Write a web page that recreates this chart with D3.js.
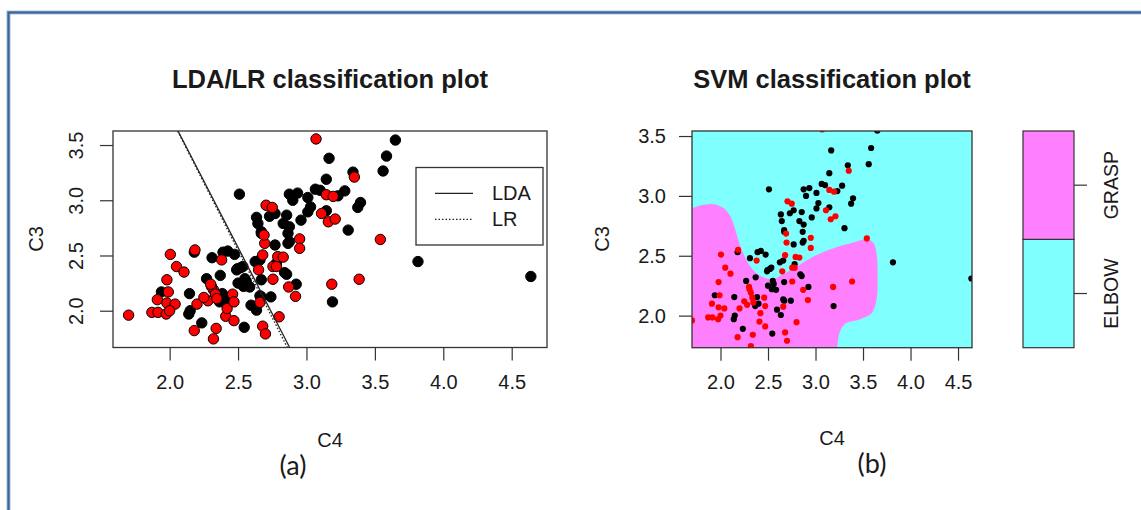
<!DOCTYPE html>
<html>
<head>
<meta charset="utf-8">
<script src="https://cdn.jsdelivr.net/npm/d3@7"></script>
<style>
  body { margin: 0; background: #fff; }
  svg text { font-family: "Liberation Sans", Arial, sans-serif; fill: #1a1a1a; }
</style>
</head>
<body>
<div id="chart"></div>
<script>
// ---- data ----
// GRASP (red) points: [C4, C3]
const graspPts = [
  [1.70,1.96],[3.07,3.555],[2.005,2.51],[2.05,2.40],[2.105,2.35],[1.98,2.28],[1.99,2.17],
  [1.91,2.10],[1.98,2.07],[2.04,2.06],[1.87,1.985],[1.915,1.985],[1.975,1.97],[2.00,2.00],
  [2.185,2.55],[2.38,2.46],[2.18,1.82],[2.32,1.745],[2.34,1.84],[2.41,1.95],[2.47,1.91],
  [2.20,2.06],[2.28,2.09],[2.32,2.19],[2.305,2.22],[2.335,2.15],[2.42,2.02],[2.46,2.15],
  [2.47,2.08],[2.68,1.86],[2.70,1.79],[2.80,1.945],[2.66,2.075],[2.65,2.37],[2.755,2.285],
  [2.87,2.215],[2.92,2.13],[2.68,2.505],[2.695,2.61],[2.755,2.40],[2.79,2.49],[2.83,2.485],
  [2.95,2.65],[2.95,2.565],[2.69,2.685],[2.705,2.955],[2.75,2.935],[3.11,2.88],[3.16,2.805],
  [3.21,2.83],[3.145,3.05],[3.195,3.035],[3.35,3.21],[3.54,2.645],[3.185,2.24],[3.385,2.285],
  [2.30,2.24],[2.345,2.11],[2.78,2.40],[2.25,2.12]
];
// ELBOW (black) points: [C4, C3]
const elbowPts = [
  [1.94,2.17],[2.145,2.155],[2.15,2.00],[2.14,1.97],[2.235,1.89],[2.18,2.53],[2.31,2.48],
  [2.39,2.53],[2.425,2.54],[2.475,2.51],[2.37,2.32],[2.27,2.29],[2.495,2.38],[2.535,2.40],
  [2.55,2.29],[2.50,2.25],[2.385,2.155],[2.40,2.10],[2.365,2.08],[2.545,1.85],[2.595,2.05],
  [2.635,2.005],[2.67,2.125],[2.74,2.125],[2.67,2.28],[2.585,2.215],[2.625,2.445],[2.84,2.345],
  [2.925,2.24],[2.67,2.715],[2.875,2.625],[2.77,2.595],[3.19,2.08],[2.51,3.055],[2.635,2.845],
  [2.645,2.79],[2.67,2.70],[2.73,2.855],[2.77,2.88],[2.83,2.79],[2.855,2.865],[2.875,2.76],
  [2.865,2.70],[2.865,2.61],[2.875,3.055],[2.90,3.00],[2.935,3.065],[2.96,2.82],[3.01,3.025],
  [3.03,2.94],[3.01,2.895],[3.065,3.10],[3.10,3.09],[3.145,3.19],[3.165,3.38],[3.23,3.04],
  [3.28,3.085],[3.34,3.255],[3.305,2.73],[3.375,2.935],[3.395,2.98],[3.56,3.265],[3.585,3.40],
  [3.65,3.545],[3.815,2.445],[4.64,2.31],[2.855,2.33],[2.78,2.43],[2.66,2.135],[2.54,2.22],
  [2.56,2.265],[2.66,2.46],[2.52,2.39],[2.49,2.37],[3.145,2.905]
];

// discriminant lines, C3 = intercept + slope * C4
const lineNames = ["LDA", "LR"];
const lineIntercepts = [8.578, 8.657];
const lineSlopes = [-2.402, -2.444];

// SVM GRASP region outline (curved part), [C4, C3]
const svmEdgeC4 = [1.70,1.825,1.93,2.035,2.105,2.157,2.21,2.314,2.419,2.542,2.664,2.804,2.978,
  3.188,3.398,3.537,3.607,3.642,3.653,3.642,3.59,3.468,3.31,3.251,3.23];
const svmEdgeC3 = [2.897,2.925,2.931,2.897,2.828,2.716,2.577,2.41,2.332,2.304,2.348,2.41,2.493,
  2.563,2.61,2.638,2.61,2.521,2.326,2.131,2.02,1.969,1.93,1.852,1.732];

const xTicks = [2.0, 2.5, 3.0, 3.5, 4.0, 4.5];
const yTicks = [2.0, 2.5, 3.0, 3.5];
const classNames = ["ELBOW", "GRASP"];
const classColors = ["#80FFFF", "#FF80FF"];

// ---- page ----
const W = 1141, H = 510;
const svg = d3.select("#chart").append("svg").attr("width", W).attr("height", H);

// blue frame
svg.append("rect").attr("x", 8.5).attr("y", 12.5).attr("width", W + 20).attr("height", H + 20)
  .attr("fill", "none").attr("stroke", "#a9bedb").attr("stroke-width", 4);
svg.append("rect").attr("x", 8.5).attr("y", 12.5).attr("width", W + 20).attr("height", H + 20)
  .attr("fill", "none").attr("stroke", "#3d6399").attr("stroke-width", 2.2);

const fmt = d3.format(".1f");

function xAxisR(g, x, y0) {
  g.attr("transform", "translate(0," + y0 + ")")
    .call(d3.axisBottom(x).tickValues(xTicks).tickFormat(fmt).tickSize(13).tickPadding(14))
    .call(a => a.select(".domain").remove())
    .call(a => a.selectAll("line").attr("stroke", "#333").attr("stroke-width", 1.2))
    .call(a => a.selectAll("text").attr("font-size", 20).attr("fill", "#1a1a1a")
      .attr("font-family", "Liberation Sans, Arial, sans-serif"));
}

/** Left plot: LDA / LR */
const xA = d3.scaleLinear().domain([1.586, 4.758]).range([113, 547]);
const yA = d3.scaleLinear().domain([1.667, 3.627]).range([347.5, 131]);

const plotA = svg.append("g");
svg.append("defs").append("clipPath").attr("id", "clipA")
  .append("rect").attr("x", 113).attr("y", 131).attr("width", 434).attr("height", 216.5);

// points
plotA.selectAll("circle.elbow").data(elbowPts).join("circle").attr("class", "elbow")
  .attr("cx", d => xA(d[0])).attr("cy", d => yA(d[1])).attr("r", 5.2)
  .attr("fill", "#000").attr("stroke", "#000").attr("stroke-width", 1);
plotA.selectAll("circle.grasp").data(graspPts).join("circle").attr("class", "grasp")
  .attr("cx", d => xA(d[0])).attr("cy", d => yA(d[1])).attr("r", 5.2)
  .attr("fill", "#FF0000").attr("stroke", "#000").attr("stroke-width", 1);

// lines
const yd = yA.domain();
plotA.append("g").attr("clip-path", "url(#clipA)")
  .selectAll("line").data(lineNames).join("line")
  .attr("x1", (d, i) => xA((yd[1] - lineIntercepts[i]) / lineSlopes[i])).attr("y1", yA(yd[1]))
  .attr("x2", (d, i) => xA((yd[0] - lineIntercepts[i]) / lineSlopes[i])).attr("y2", yA(yd[0]))
  .attr("stroke", "#222").attr("stroke-width", 1.3)
  .attr("stroke-dasharray", (d, i) => i == 0 ? null : "1.5,2");

// box
plotA.append("rect").attr("x", 113).attr("y", 131).attr("width", 434).attr("height", 216.5)
  .attr("fill", "none").attr("stroke", "#333").attr("stroke-width", 1.3);

plotA.append("g").call(g => xAxisR(g, xA, 347.5));

// y axis with rotated labels (R default)
const yAxA = plotA.append("g").attr("transform", "translate(113,0)")
  .call(d3.axisLeft(yA).tickValues(yTicks).tickFormat(fmt).tickSize(13).tickPadding(0));
yAxA.select(".domain").remove();
yAxA.selectAll("line").attr("stroke", "#333").attr("stroke-width", 1.2);
yAxA.selectAll("text").attr("font-size", 20).attr("fill", "#1a1a1a")
  .attr("font-family", "Liberation Sans, Arial, sans-serif")
  .attr("text-anchor", "middle").attr("dy", null)
  .attr("transform", "translate(-30.5,0) rotate(-90)").attr("x", 0).attr("y", 0);

// legend
const leg = plotA.append("g");
leg.append("rect").attr("x", 416).attr("y", 167.5).attr("width", 127).attr("height", 77.5)
  .attr("fill", "#fff").attr("stroke", "#333").attr("stroke-width", 1.3);
lineNames.forEach((n, i) => {
  const ly = 193.3 + i * 26;
  leg.append("line").attr("x1", 435).attr("x2", 473).attr("y1", ly).attr("y2", ly)
    .attr("stroke", "#222").attr("stroke-width", 1.3)
    .attr("stroke-dasharray", i == 0 ? null : "1.5,2");
  leg.append("text").attr("x", 492).attr("y", ly + 7).attr("font-size", 20).text(n);
});

// titles and labels
svg.append("text").attr("x", 330).attr("y", 88).attr("text-anchor", "middle")
  .attr("font-size", 25.5).attr("font-weight", "bold").attr("fill", "#000")
  .text("LDA/LR classification plot");
svg.append("text").attr("x", 330).attr("y", 447).attr("text-anchor", "middle")
  .attr("font-size", 20).text("C4");
svg.append("text").attr("transform", "translate(42.5,239) rotate(-90)")
  .attr("text-anchor", "middle").attr("font-size", 20).text("C3");
svg.append("text").attr("x", 293).attr("y", 475).attr("text-anchor", "middle")
  .attr("font-size", 27).style("font-family", "Lato, 'Open Sans', sans-serif").text("(a)");

/** Right plot: SVM */
const xB = d3.scaleLinear().domain([1.70, 4.647]).range([692, 972]);
const yB = d3.scaleLinear().domain([1.732, 3.542]).range([347.7, 131]);

svg.select("defs").append("clipPath").attr("id", "clipB")
  .append("rect").attr("x", 692).attr("y", 131).attr("width", 280).attr("height", 216.7);

const plotB = svg.append("g");
const regB = plotB.append("g").attr("clip-path", "url(#clipB)");
regB.append("rect").attr("x", 692).attr("y", 131).attr("width", 280).attr("height", 216.7)
  .attr("fill", classColors[0]);

const edge = svmEdgeC4.map((c4, i) => [xB(c4), yB(svmEdgeC3[i])]);
const edgePath = d3.line().curve(d3.curveCatmullRom.alpha(0.5))(edge);
regB.append("path")
  .attr("d", edgePath + "L" + xB(3.23) + "," + (yB(1.732) + 5) + "L" + (xB(1.70) - 5) + "," + (yB(1.732) + 5)
    + "L" + (xB(1.70) - 5) + "," + yB(2.897) + "Z")
  .attr("fill", classColors[1]);

regB.selectAll("circle.elbow").data(elbowPts).join("circle").attr("class", "elbow")
  .attr("cx", d => xB(d[0])).attr("cy", d => yB(d[1])).attr("r", 3.1).attr("fill", "#000");
regB.selectAll("circle.grasp").data(graspPts).join("circle").attr("class", "grasp")
  .attr("cx", d => xB(d[0])).attr("cy", d => yB(d[1])).attr("r", 3.1).attr("fill", "#FF0000");

plotB.append("rect").attr("x", 692).attr("y", 131).attr("width", 280).attr("height", 216.7)
  .attr("fill", "none").attr("stroke", "#333").attr("stroke-width", 1.3);

plotB.append("g").call(g => xAxisR(g, xB, 347.7));

const yAxB = plotB.append("g").attr("transform", "translate(692,0)")
  .call(d3.axisLeft(yB).tickValues(yTicks).tickFormat(fmt).tickSize(13).tickPadding(13));
yAxB.select(".domain").remove();
yAxB.selectAll("line").attr("stroke", "#333").attr("stroke-width", 1.2);
yAxB.selectAll("text").attr("font-size", 20).attr("fill", "#1a1a1a")
  .attr("font-family", "Liberation Sans, Arial, sans-serif");

svg.append("text").attr("x", 832).attr("y", 88).attr("text-anchor", "middle")
  .attr("font-size", 25.5).attr("font-weight", "bold").attr("fill", "#000")
  .text("SVM classification plot");
svg.append("text").attr("x", 832).attr("y", 445).attr("text-anchor", "middle")
  .attr("font-size", 20).text("C4");
svg.append("text").attr("transform", "translate(609,239) rotate(-90)")
  .attr("text-anchor", "middle").attr("font-size", 20).text("C3");
svg.append("text").attr("x", 872).attr("y", 473).attr("text-anchor", "middle")
  .attr("font-size", 27).style("font-family", "Lato, 'Open Sans', sans-serif").text("(b)");

// colour key
const yKey = d3.scaleBand().domain(classNames.slice().reverse()).range([131, 347.7]);
const key = svg.append("g");
key.selectAll("rect").data(classNames).join("rect")
  .attr("x", 1023).attr("width", 51).attr("y", d => yKey(d)).attr("height", yKey.bandwidth())
  .attr("fill", (d, i) => classColors[i]).attr("stroke", "#333").attr("stroke-width", 1.2);
const keyAx = key.append("g").attr("transform", "translate(1074,0)")
  .call(d3.axisRight(yKey).tickSize(13).tickPadding(0));
keyAx.select(".domain").remove();
keyAx.selectAll("line").attr("stroke", "#333").attr("stroke-width", 1.2);
keyAx.selectAll("text").attr("font-size", 19.5).attr("fill", "#1a1a1a")
  .attr("font-family", "Liberation Sans, Arial, sans-serif")
  .attr("text-anchor", "middle").attr("dy", null)
  .attr("transform", "translate(44,0) rotate(-90)").attr("x", 0).attr("y", 0);
</script>
</body>
</html>
